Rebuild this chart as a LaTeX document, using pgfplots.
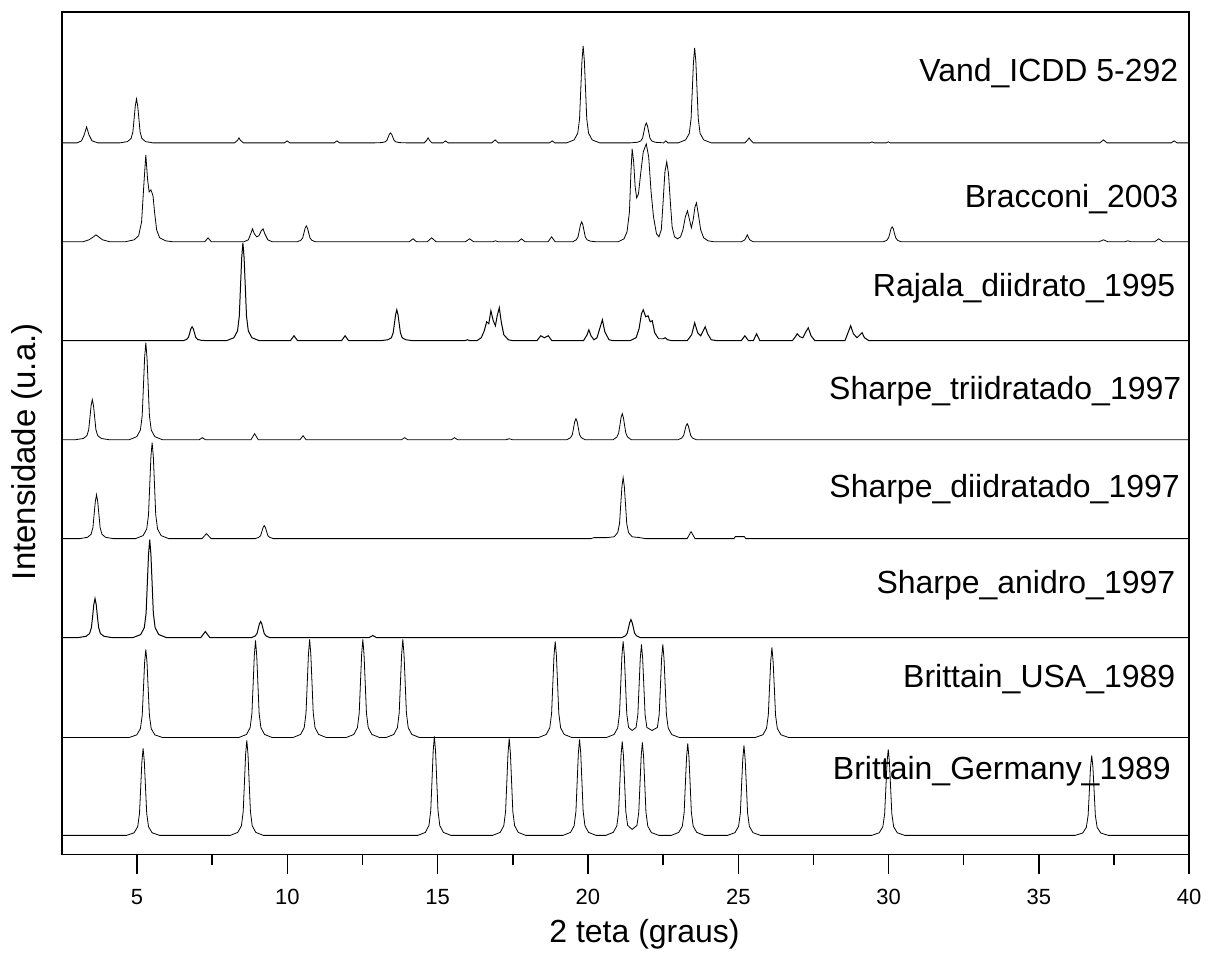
\documentclass[border=0pt]{standalone}
\usepackage{pgfplots}
\usepackage{pgfplotstable}
\pgfplotsset{compat=1.18}
\usepackage{fontspec}
\setmainfont{Liberation Sans}

% heights in px above each pattern's own baseline
\pgfplotstableread[row sep=\\]{
x y\\
2.5 0\\ 3.0 0\\ 3.15 2\\ 3.24 8\\ 3.32 16\\ 3.40 8\\ 3.5 2\\ 3.7 0\\
4.43 0\\ 4.68 1.3\\ 4.80 4.4\\ 4.86 11\\ 4.90 24\\ 4.94 37\\ 4.98 44\\ 5.02 37\\ 5.06 24\\ 5.10 11\\ 5.16 4.4\\ 5.28 1.3\\ 5.53 0\\
8.24 0\\ 8.34 2.5\\ 8.39 5\\ 8.44 2.5\\ 8.54 0\\
9.9 0\\ 9.99 2\\ 10.08 0\\ 11.56 0\\ 11.65 2\\ 11.74 0\\
12.88 0\\ 13.13 0.3\\ 13.25 1\\ 13.31 2.5\\ 13.35 5.5\\ 13.39 8.5\\ 13.43 10\\ 13.47 8.5\\ 13.51 5.5\\ 13.55 2.5\\ 13.61 1\\ 13.73 0.3\\ 13.98 0\\
14.55 0\\ 14.63 2.5\\ 14.68 5\\ 14.73 2.5\\ 14.81 0\\
15.17 0\\ 15.26 2\\ 15.35 0\\ 16.8 0\\ 16.91 3\\ 17.02 0\\ 18.72 0\\ 18.81 2\\ 18.9 0\\
19.29 0\\ 19.54 3\\ 19.66 9.7\\ 19.72 24\\ 19.76 53\\ 19.80 82\\ 19.84 97\\ 19.88 82\\ 19.92 53\\ 19.96 24\\ 20.02 9.7\\ 20.14 3\\ 20.39 0\\
21.39 0\\ 21.64 0.6\\ 21.76 2\\ 21.82 5\\ 21.86 11\\ 21.90 17\\ 21.94 20\\ 21.98 17\\ 22.02 11\\ 22.06 5\\ 22.12 2\\ 22.24 0.6\\ 22.45 0.2\\ 22.52 0\\ 22.59 2\\ 22.66 0\\
23.0 0\\ 23.25 3\\ 23.37 9.5\\ 23.43 24\\ 23.47 52\\ 23.51 81\\ 23.55 95\\ 23.59 81\\ 23.63 52\\ 23.67 24\\ 23.73 9.5\\ 23.85 3\\ 24.1 0\\
25.22 0\\ 25.30 2.5\\ 25.36 5\\ 25.42 2.5\\ 25.5 0\\
29.38 0\\ 29.45 1\\ 29.52 0\\ 29.92 0\\ 29.99 1\\ 30.06 0\\
37.03 0\\ 37.15 3\\ 37.27 0\\ 39.4 0\\ 39.5 2\\ 39.6 0\\ 40 0\\
}\vand

\pgfplotstableread[row sep=\\]{
x y\\
2.5 0\\ 3.2 0\\ 3.4 2\\ 3.55 5\\ 3.63 7\\ 3.72 5\\ 3.85 2\\ 4.1 0\\
4.6 0\\ 4.9 2\\ 5.05 6\\ 5.15 20\\ 5.22 55\\ 5.29 87\\ 5.35 62\\ 5.40 50\\ 5.46 52\\ 5.53 46\\ 5.58 30\\ 5.65 12\\ 5.75 4\\ 5.95 1\\ 6.2 0\\
7.25 0\\ 7.36 4\\ 7.47 0\\
8.55 0\\ 8.7 2\\ 8.78 8\\ 8.84 13\\ 8.9 8\\ 8.98 5\\ 9.05 6\\ 9.13 11\\ 9.19 13\\ 9.25 8\\ 9.35 2\\ 9.5 0\\
10.33 0\\ 10.45 1.6\\ 10.51 4\\ 10.55 8.8\\ 10.59 13.6\\ 10.63 16\\ 10.67 13.6\\ 10.71 8.8\\ 10.75 4\\ 10.81 1.6\\ 10.93 0\\
14.05 0\\ 14.18 3\\ 14.3 0\\ 14.65 0\\ 14.8 4\\ 14.95 0\\ 15.92 0\\ 16.06 3\\ 16.2 0\\
16.82 0\\ 16.92 1\\ 17.02 0\\ 17.67 0\\ 17.79 3\\ 17.91 0\\ 18.67 0\\ 18.79 5\\ 18.91 0\\
19.49 0\\ 19.61 2\\ 19.67 5\\ 19.71 11\\ 19.75 17\\ 19.79 20\\ 19.83 17\\ 19.87 11\\ 19.91 5\\ 19.97 2\\ 20.09 0.6\\ 20.3 0\\
21.0 0\\ 21.2 3\\ 21.3 10\\ 21.38 30\\ 21.43 70\\ 21.47 93\\ 21.52 80\\ 21.57 55\\ 21.62 44\\ 21.68 48\\ 21.76 70\\ 21.84 90\\ 21.94 98\\ 22.02 85\\ 22.1 50\\ 22.18 25\\ 22.28 8\\ 22.36 5\\
22.44 12\\ 22.5 40\\ 22.56 70\\ 22.62 80\\ 22.68 68\\ 22.74 40\\ 22.8 15\\ 22.88 5\\ 22.98 3\\ 23.08 5\\ 23.16 12\\ 23.24 25\\ 23.31 31\\ 23.38 22\\ 23.44 14\\ 23.5 22\\ 23.56 35\\ 23.61 39\\ 23.67 28\\ 23.75 12\\ 23.85 4\\ 24.0 1\\ 24.2 0\\
25.1 0\\ 25.22 2\\ 25.3 7\\ 25.38 2\\ 25.5 0\\
29.82 0\\ 29.94 1.5\\ 30.0 4\\ 30.04 8\\ 30.08 13\\ 30.12 15\\ 30.16 13\\ 30.2 8\\ 30.24 4\\ 30.3 1.5\\ 30.42 0\\
37.0 0\\ 37.15 2\\ 37.3 0\\ 37.85 0\\ 37.96 1\\ 38.07 0\\ 38.85 0\\ 38.99 3\\ 39.13 0\\ 40 0\\
}\bracconi

\pgfplotstableread[row sep=\\]{
x y\\
2.5 0\\ 6.53 0\\ 6.65 1.4\\ 6.71 3.5\\ 6.75 7.7\\ 6.79 12\\ 6.83 14\\ 6.87 12\\ 6.91 7.7\\ 6.95 3.5\\ 7.01 1.4\\ 7.13 0.4\\ 7.38 0\\
7.97 0\\ 8.22 3\\ 8.34 9.8\\ 8.40 24.5\\ 8.44 54\\ 8.48 83\\ 8.52 98\\ 8.56 83\\ 8.60 54\\ 8.64 24.5\\ 8.70 9.8\\ 8.82 3\\ 9.07 0\\
10.1 0\\ 10.22 5\\ 10.34 0\\ 11.8 0\\ 11.92 5\\ 12.04 0\\
13.09 0\\ 13.34 1\\ 13.46 3\\ 13.52 8\\ 13.56 17\\ 13.60 26\\ 13.64 31\\ 13.68 26\\ 13.72 17\\ 13.76 8\\ 13.82 3\\ 13.94 1\\ 14.19 0\\
15.9 0\\ 15.99 1\\ 16.08 0\\
16.3 0\\ 16.45 3\\ 16.55 10\\ 16.63 19\\ 16.7 17\\ 16.77 30\\ 16.85 20\\ 16.92 15\\ 16.98 25\\ 17.05 33\\ 17.12 18\\ 17.2 6\\ 17.35 1\\ 17.5 0\\
18.3 0\\ 18.43 5\\ 18.55 3\\ 18.68 5\\ 18.8 0\\
19.85 0\\ 19.97 6\\ 20.03 11\\ 20.1 5\\ 20.2 1\\ 20.3 3\\ 20.4 13\\ 20.48 21\\ 20.56 9\\ 20.7 1\\ 20.85 0\\
21.4 0\\ 21.6 3\\ 21.7 12\\ 21.78 27\\ 21.84 31\\ 21.92 24\\ 22.0 25\\ 22.07 19\\ 22.14 20\\ 22.22 8\\ 22.35 2\\ 22.5 2\\ 22.57 3\\ 22.65 1\\ 22.8 0\\
23.3 0\\ 23.45 6\\ 23.55 18\\ 23.65 8\\ 23.75 5\\ 23.82 9\\ 23.9 14\\ 23.98 7\\ 24.1 1\\ 24.3 0\\
25.1 0\\ 25.22 5\\ 25.34 0\\ 25.5 0\\ 25.61 7\\ 25.72 0\\
26.8 0\\ 26.9 4\\ 26.96 7\\ 27.05 4\\ 27.15 3\\ 27.25 9\\ 27.33 13\\ 27.42 5\\ 27.55 0\\
28.55 0\\ 28.65 8\\ 28.74 15\\ 28.83 7\\ 28.95 3\\ 29.05 6\\ 29.12 8\\ 29.2 3\\ 29.35 0\\ 40 0\\
}\rajala

\pgfplotstableread[row sep=\\]{
x y\\
2.5 0\\ 2.96 0\\ 3.21 1.2\\ 3.33 4\\ 3.39 10\\ 3.43 22\\ 3.47 34\\ 3.51 40\\ 3.55 34\\ 3.59 22\\ 3.63 10\\ 3.69 4\\ 3.81 1.2\\ 4.06 0\\
4.74 0\\ 4.99 3\\ 5.11 9.7\\ 5.17 24\\ 5.21 53\\ 5.25 82\\ 5.29 97\\ 5.33 82\\ 5.37 53\\ 5.41 24\\ 5.47 9.7\\ 5.59 3\\ 5.84 0\\
7.07 0\\ 7.17 2\\ 7.27 0\\ 8.79 0\\ 8.91 6\\ 9.03 0\\ 10.42 0\\ 10.52 4\\ 10.62 0\\
13.8 0\\ 13.9 2\\ 14.0 0\\ 15.46 0\\ 15.56 2\\ 15.66 0\\ 17.28 0\\ 17.38 1\\ 17.48 0\\
19.3 0\\ 19.42 2\\ 19.48 5\\ 19.52 11.5\\ 19.56 18\\ 19.6 21\\ 19.64 18\\ 19.68 11.5\\ 19.72 5\\ 19.78 2\\ 19.9 0\\
20.84 0\\ 20.96 2.6\\ 21.02 6.5\\ 21.06 14\\ 21.1 22\\ 21.14 26\\ 21.18 22\\ 21.22 14\\ 21.26 6.5\\ 21.32 2.6\\ 21.44 0\\
23.0 0\\ 23.12 1.6\\ 23.18 4\\ 23.22 8.8\\ 23.26 13.6\\ 23.3 16\\ 23.34 13.6\\ 23.38 8.8\\ 23.42 4\\ 23.48 1.6\\ 23.6 0\\ 40 0\\
}\sharpetri

\pgfplotstableread[row sep=\\]{
x y\\
2.5 0\\ 3.1 0\\ 3.35 1.3\\ 3.47 4.4\\ 3.53 11\\ 3.57 24\\ 3.61 37\\ 3.65 44\\ 3.69 37\\ 3.73 24\\ 3.77 11\\ 3.83 4.4\\ 3.95 1.3\\ 4.2 0\\
4.95 0\\ 5.2 3\\ 5.32 9.6\\ 5.38 24\\ 5.42 53\\ 5.46 82\\ 5.5 96\\ 5.54 82\\ 5.58 53\\ 5.62 24\\ 5.68 9.6\\ 5.8 3\\ 6.05 0\\
7.16 0\\ 7.31 5\\ 7.46 0\\
8.93 0\\ 9.05 1.3\\ 9.11 3\\ 9.15 7\\ 9.19 11\\ 9.23 13\\ 9.27 11\\ 9.31 7\\ 9.35 3\\ 9.41 1.3\\ 9.53 0\\
20.1 0\\ 20.2 1\\ 20.62 1\\ 20.87 1.8\\ 20.99 6\\ 21.05 15\\ 21.09 34\\ 21.13 52\\ 21.17 61\\ 21.21 52\\ 21.25 34\\ 21.29 15\\ 21.35 6\\ 21.47 1.8\\ 21.72 1\\ 21.9 0\\
23.3 0\\ 23.43 7\\ 23.56 0\\ 24.86 0\\ 24.9 2\\ 25.2 2\\ 25.25 0\\ 40 0\\
}\sharpedi

\pgfplotstableread[row sep=\\]{
x y\\
2.5 0\\ 3.05 0\\ 3.3 1.2\\ 3.42 4\\ 3.48 10\\ 3.52 21\\ 3.56 33\\ 3.6 39\\ 3.64 33\\ 3.68 21\\ 3.72 10\\ 3.78 4\\ 3.9 1.2\\ 4.15 0\\
4.87 0\\ 5.12 3\\ 5.24 9.8\\ 5.30 24.5\\ 5.34 54\\ 5.38 83\\ 5.42 98\\ 5.46 83\\ 5.50 54\\ 5.54 24.5\\ 5.60 9.8\\ 5.72 3\\ 5.97 0\\
7.12 0\\ 7.27 6\\ 7.42 0\\
8.81 0\\ 8.93 1.6\\ 8.99 4\\ 9.03 8.8\\ 9.07 13.6\\ 9.11 16\\ 9.15 13.6\\ 9.19 8.8\\ 9.23 4\\ 9.29 1.6\\ 9.41 0\\
12.72 0\\ 12.84 2\\ 12.96 0\\
21.13 0\\ 21.25 1.8\\ 21.31 4.5\\ 21.35 10\\ 21.39 15\\ 21.43 18\\ 21.47 15\\ 21.51 10\\ 21.55 4.5\\ 21.61 1.8\\ 21.73 0\\ 40 0\\
}\sharpean

\pgfplotstableread[row sep=\\]{
x y\\
2.5 0\\ 4.74 0\\ 4.99 2.6\\ 5.11 8.8\\ 5.17 22\\ 5.21 48\\ 5.25 75\\ 5.29 88\\ 5.33 75\\ 5.37 48\\ 5.41 22\\ 5.47 8.8\\ 5.59 2.6\\ 5.84 0\\
8.39 0\\ 8.64 3\\ 8.76 9.7\\ 8.82 24\\ 8.86 53\\ 8.9 82\\ 8.94 97\\ 8.98 82\\ 9.02 53\\ 9.06 24\\ 9.12 9.7\\ 9.24 3\\ 9.49 0\\
10.19 0\\ 10.44 3\\ 10.56 9.8\\ 10.62 24.5\\ 10.66 54\\ 10.70 83\\ 10.74 98\\ 10.78 83\\ 10.82 54\\ 10.86 24.5\\ 10.92 9.8\\ 11.04 3\\ 11.29 0\\
11.96 0\\ 12.21 3\\ 12.33 9.8\\ 12.39 24.5\\ 12.43 54\\ 12.47 83\\ 12.51 98\\ 12.55 83\\ 12.59 54\\ 12.63 24.5\\ 12.69 9.8\\ 12.81 3\\ 13.06 0\\
13.29 0\\ 13.54 3\\ 13.66 9.8\\ 13.72 24.5\\ 13.76 54\\ 13.80 83\\ 13.84 98\\ 13.88 83\\ 13.92 54\\ 13.96 24.5\\ 14.02 9.8\\ 14.14 3\\ 14.39 0\\
18.36 0\\ 18.61 3\\ 18.73 9.6\\ 18.79 24\\ 18.83 53\\ 18.87 82\\ 18.91 96\\ 18.95 82\\ 18.99 53\\ 19.03 24\\ 19.09 9.6\\ 19.21 3\\ 19.46 0\\
20.62 0\\ 20.87 3\\ 20.99 9.6\\ 21.05 24\\ 21.09 53\\ 21.13 82\\ 21.17 96\\ 21.21 82\\ 21.25 53\\ 21.29 24\\ 21.35 10\\ 21.47 7\\ 21.6 10\\ 21.66 23\\ 21.70 51\\ 21.74 79\\ 21.78 93\\ 21.82 79\\ 21.86 51\\ 21.90 23\\ 21.96 10\\ 22.13 7\\
22.31 10\\ 22.37 23\\ 22.41 51\\ 22.45 79\\ 22.49 93\\ 22.53 79\\ 22.57 51\\ 22.61 23\\ 22.67 9.3\\ 22.79 2.8\\ 23.04 0\\
25.57 0\\ 25.82 2.7\\ 25.94 9\\ 26.0 22.5\\ 26.04 50\\ 26.08 76\\ 26.12 90\\ 26.16 76\\ 26.2 50\\ 26.24 22.5\\ 26.3 9\\ 26.42 2.7\\ 26.67 0\\ 40 0\\
}\usa

\pgfplotstableread[row sep=\\]{
x y\\
2.5 0\\ 4.65 0\\ 4.9 2.6\\ 5.02 8.7\\ 5.08 22\\ 5.12 48\\ 5.16 74\\ 5.2 87\\ 5.24 74\\ 5.28 48\\ 5.32 22\\ 5.38 8.7\\ 5.5 2.6\\ 5.75 0\\
8.1 0\\ 8.35 3\\ 8.47 9.5\\ 8.53 24\\ 8.57 52\\ 8.61 81\\ 8.65 95\\ 8.69 81\\ 8.73 52\\ 8.77 24\\ 8.83 9.5\\ 8.95 3\\ 9.2 0\\
14.34 0\\ 14.59 3\\ 14.71 9.9\\ 14.77 25\\ 14.81 54\\ 14.85 84\\ 14.89 99\\ 14.93 84\\ 14.97 54\\ 15.01 25\\ 15.07 9.9\\ 15.19 3\\ 15.44 0\\
16.83 0\\ 17.08 3\\ 17.2 9.7\\ 17.26 24\\ 17.3 53\\ 17.34 82\\ 17.38 97\\ 17.42 82\\ 17.46 53\\ 17.5 24\\ 17.56 9.7\\ 17.68 3\\ 17.93 0\\
19.17 0\\ 19.42 3\\ 19.54 9.6\\ 19.6 24\\ 19.64 53\\ 19.68 82\\ 19.72 96\\ 19.76 82\\ 19.8 53\\ 19.84 24\\ 19.9 9.6\\ 20.02 3\\ 20.27 0\\
20.59 0\\ 20.84 3\\ 20.96 9.4\\ 21.02 23.5\\ 21.06 52\\ 21.1 80\\ 21.14 94\\ 21.18 80\\ 21.22 52\\ 21.26 23.5\\ 21.32 10\\ 21.47 6\\ 21.63 10\\ 21.69 23\\ 21.73 51\\ 21.77 79\\ 21.81 93\\ 21.85 79\\ 21.89 51\\ 21.93 23\\ 21.99 9.3\\ 22.11 2.8\\ 22.36 0\\
22.77 0\\ 23.02 3\\ 23.14 9.2\\ 23.2 23\\ 23.24 51\\ 23.28 78\\ 23.32 92\\ 23.36 78\\ 23.4 51\\ 23.44 23\\ 23.5 9.2\\ 23.62 3\\ 23.87 0\\
24.64 0\\ 24.89 2.7\\ 25.01 9\\ 25.07 22.5\\ 25.11 50\\ 25.15 76\\ 25.19 90\\ 25.23 76\\ 25.27 50\\ 25.31 22.5\\ 25.37 9\\ 25.49 2.7\\ 25.74 0\\
29.44 0\\ 29.69 2.6\\ 29.81 8.6\\ 29.87 21.5\\ 29.91 47\\ 29.95 73\\ 29.99 86\\ 30.03 73\\ 30.07 47\\ 30.11 21.5\\ 30.17 8.6\\ 30.29 2.6\\ 30.54 0\\
36.21 0\\ 36.46 2.4\\ 36.58 8\\ 36.64 20\\ 36.68 44\\ 36.72 68\\ 36.76 80\\ 36.8 68\\ 36.84 44\\ 36.88 20\\ 36.94 8\\ 37.06 2.4\\ 37.31 0\\ 40 0\\
}\germany

\begin{document}
\begin{tikzpicture}
\begin{axis}[
  scale only axis,
  width=564pt, height=421.5pt,
  xmin=2.5, xmax=40, ymin=0, ymax=843,
  axis line style={line width=0.75pt},
  ytick=\empty,
  xtick={5,10,...,40},
  minor x tick num=1,
  xtick pos=bottom,
  xtick align=outside,
  major tick length=10pt,
  minor tick length=5.5pt,
  every tick/.style={black, line width=0.75pt},
  /pgf/number format/assume math mode=true,
  ticklabel style={font=\fontsize{11}{13}\selectfont},
  xticklabel style={yshift=-4pt},
  xlabel={2 teta (graus)},
  ylabel={Intensidade (u.a.)},
  xlabel style={font=\fontsize{16}{19}\selectfont, at={(axis description cs:0.5,0)}, anchor=base, yshift=-44pt, xshift=9.5pt},
  ylabel style={font=\fontsize{16.5}{19}\selectfont, at={(axis description cs:-0.0239,0.478)}, anchor=base},
  clip=false,
  cycle list={{black, solid, line width=0.5pt}},
  every axis plot/.append style={no markers},
]
\addplot table[x=x, y expr=\thisrow{y}+712] {\vand};
\addplot table[x=x, y expr=\thisrow{y}+613] {\bracconi};
\addplot table[x=x, y expr=\thisrow{y}+514] {\rajala};
\addplot table[x=x, y expr=\thisrow{y}+415] {\sharpetri};
\addplot table[x=x, y expr=\thisrow{y}+316] {\sharpedi};
\addplot table[x=x, y expr=\thisrow{y}+217] {\sharpean};
\addplot table[x=x, y expr=\thisrow{y}+117] {\usa};
\addplot table[x=x, y expr=\thisrow{y}+19] {\germany};
\begin{scope}[every node/.style={font=\fontsize{16}{19}\selectfont, anchor=base east, inner sep=0pt}]
\node at (axis cs:39.65,773) {Vand\_ICDD 5-292};
\node at (axis cs:39.65,647) {Bracconi\_2003};
\node at (axis cs:39.55,558) {Rajala\_diidrato\_1995};
\node at (axis cs:39.75,455) {Sharpe\_triidratado\_1997};
\node at (axis cs:39.7,357) {Sharpe\_diidratado\_1997};
\node at (axis cs:39.55,261) {Sharpe\_anidro\_1997};
\node at (axis cs:39.55,167) {Brittain\_USA\_1989};
\node at (axis cs:39.4,75) {Brittain\_Germany\_1989};
\end{scope}
\end{axis}
\path (current axis.south west) ++(-31pt,-47.5pt);
\path (current axis.north east) ++(4.5pt,6pt);
\end{tikzpicture}
\end{document}
